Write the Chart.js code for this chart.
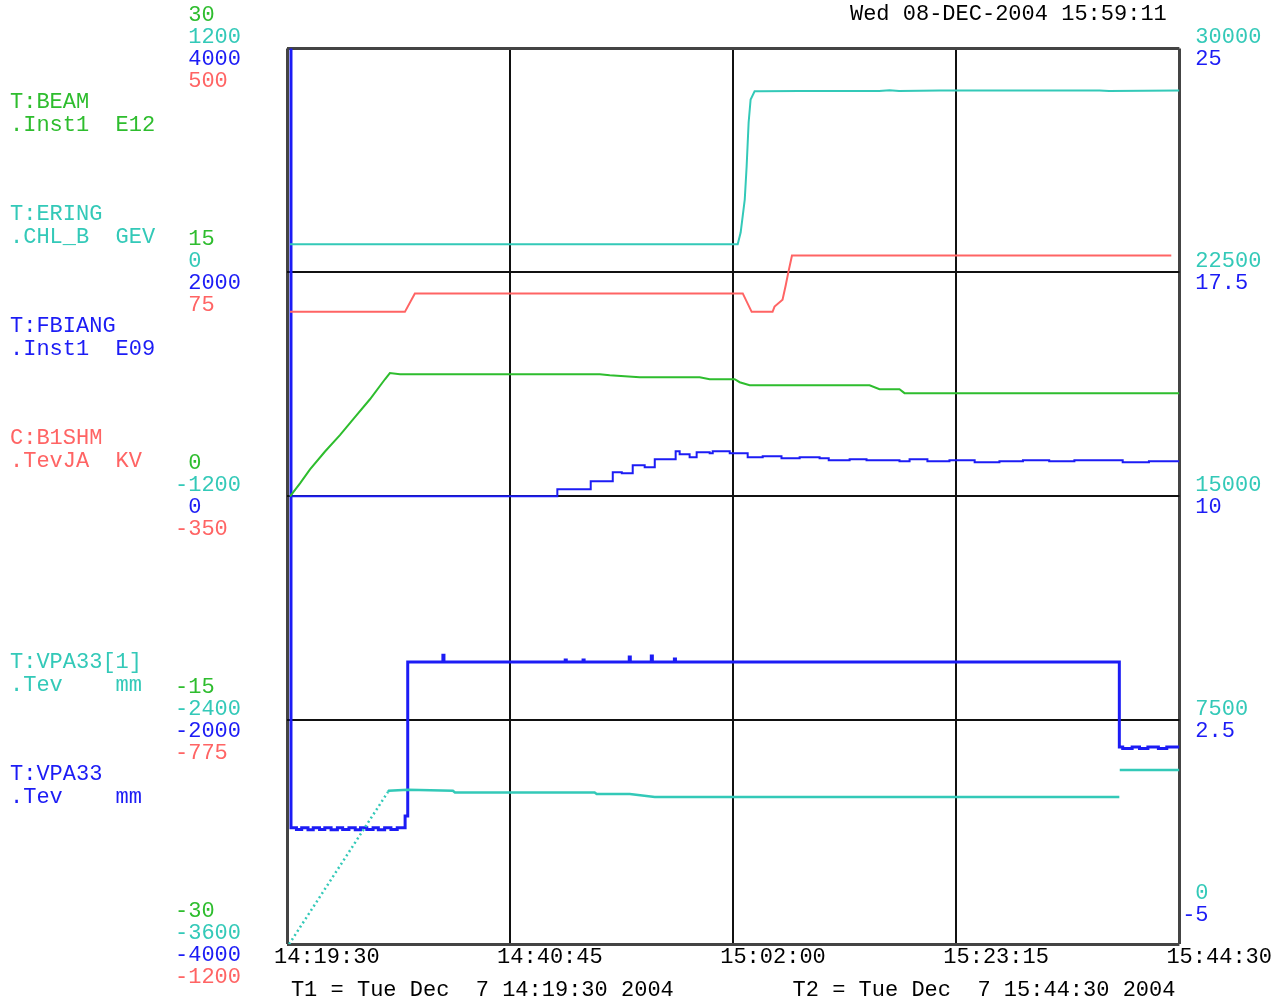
<!DOCTYPE html>
<html>
<head>
<meta charset="utf-8">
<style>
  html, body { margin: 0; padding: 0; background: #fff; }
</style>
<script src="https://cdn.jsdelivr.net/npm/chart.js@4.4.1/dist/chart.umd.min.js"></script>
</head>
<body>
<canvas id="plot" width="1285" height="1003"></canvas>
<script>
// ==== TIME AXIS (minutes since 14:19:30) ====
const xTickMinutes = [0, 21.25, 42.5, 63.75, 85];
const xTickLabels = ['14:19:30', '14:40:45', '15:02:00', '15:23:15', '15:44:30'];
const stampText = 'Wed 08-DEC-2004 15:59:11';
const t1Text = 'T1 = Tue Dec  7 14:19:30 2004';
const t2Text = 'T2 = Tue Dec  7 15:44:30 2004';

// ==== AXIS TICKS ====
const beamTicks = [-30, -15, 0, 15, 30];
const eringTicks = [-3600, -2400, -1200, 0, 1200];
const fbiangTicks = [-4000, -2000, 0, 2000, 4000];
const b1shmTicks = [-1200, -775, -350, 75, 500];
const vpa1Ticks = [0, 7500, 15000, 22500, 30000];
const vpaTicks = [-5, 2.5, 10, 17.5, 25];

// ==== SERIES ====
const seriesNames = ['T:BEAM', 'T:ERING', 'T:FBIANG', 'C:B1SHM', 'T:VPA33[1]', 'T:VPA33'];
const seriesUnits = ['.Inst1  E12', '.CHL_B  GEV', '.Inst1  E09', '.TevJA  KV', '.Tev    mm', '.Tev    mm'];

const beamT = [0.29, 1.24, 2.19, 3.62, 5.04, 6.47, 7.90, 9.33, 9.80, 10.76, 29.79, 30.74, 33.6, 39.31, 40.26, 42.64, 43.12, 44.07, 55.49, 56.44, 58.34, 58.82, 85];
const beamV = [0, 0.87, 1.8, 3.0, 4.1, 5.3, 6.5, 7.84, 8.25, 8.18, 8.18, 8.11, 7.98, 7.98, 7.84, 7.84, 7.64, 7.44, 7.44, 7.17, 7.17, 6.91, 6.91];

const eringT = [0.29, 42.93, 43.21, 43.4, 43.6, 43.78, 43.97, 44.16, 44.54, 45.0, 48.8, 56.4, 57.4, 58.3, 62.2, 77.4, 78.3, 85];
const eringV = [150, 150, 213, 299, 390, 567, 803, 926, 970, 970, 972, 972, 976, 972, 975, 975, 972, 975];

const fbiangT = [0.29, 25.75, 28.93, 31.03, 31.89, 32.93, 34.07, 35.03, 37.02, 37.4, 38.35, 39.02, 40.26, 40.55, 42.17, 43.88, 45.31, 47.1, 48.83, 50.73, 51.6, 53.59, 55.2, 56.44, 58.34, 59.3, 61.0, 63.1, 65.5, 67.86, 70.1, 72.6, 75.0, 77.4, 79.6, 82.1, 85];
const fbiangV = [0, 63, 134, 214, 206, 277, 259, 331, 402, 375, 349, 393, 384, 402, 384, 349, 357, 340, 349, 340, 322, 331, 322, 322, 313, 331, 313, 322, 304, 313, 322, 313, 322, 322, 304, 313, 313];

const b1shmT = [0.29, 11.23, 12.18, 43.41, 44.26, 46.25, 46.44, 47.2, 47.5, 47.75, 48.1, 84.23];
const b1shmV = [0, 0, 35, 35, 0, 0, 10, 23, 50, 75, 107, 107];

const vpa1T = [0.2, 9.61, 9.7, 11.5, 15.8, 16.0, 29.3, 29.5, 32.65, 35.03, 79.28, 79.3, 79.32, 85];
const vpa1V = [0, 5095, 5140, 5170, 5140, 5080, 5080, 5028, 5028, 4927, 4927, null, 5832, 5832];

const vpaT = [0.35, 0.38, 0.9, 1.4, 2.0, 2.5, 3.1, 3.6, 4.2, 4.8, 5.3, 5.9, 6.5, 7.0, 7.6, 8.2, 8.7, 9.3, 9.9, 10.5, 11.25, 11.5, 14.85, 14.95, 26.5, 26.6, 28.2, 28.3, 32.6, 32.7, 34.7, 34.8, 36.9, 37.0, 79.28, 79.6, 80.5, 81.2, 82.0, 83.0, 83.8, 85];
const vpaV = [30, -1.1, -1.16, -1.1, -1.17, -1.1, -1.16, -1.1, -1.17, -1.1, -1.16, -1.1, -1.17, -1.1, -1.16, -1.1, -1.17, -1.1, -1.16, -1.1, -0.71, 4.45, 4.68, 4.45, 4.52, 4.45, 4.52, 4.45, 4.62, 4.45, 4.65, 4.45, 4.55, 4.45, 1.6, 1.55, 1.6, 1.55, 1.6, 1.55, 1.6, 1.6];

// ==== STYLE ====
const GREEN = '#2ebd2e';
const CYAN = '#33c9b8';
const BLUE = '#1c1cf5';
const RED = '#ff6464';
const FONT = { family: '"Liberation Mono", "DejaVu Sans Mono", monospace', size: 22, weight: 'normal' };

const toPoints = (t, v) => t.map((x, i) => ({ x: x, y: v[i] }));
// sign sits in its own column, digits line up behind it
const signFmt = v => (v < 0 ? '-' : ' ') + String(Math.abs(v));
// right side: bottom pair is lifted clear of the time labels
const rightFmt = (v, i) => {
  const s = signFmt(v).padEnd(6);
  return i === 0 ? [s, '', '', ''] : s;
};

const edge = ctx => ctx.index === 0 || ctx.index === 4;
const gridOpts = {
  display: true,
  drawTicks: false,
  color: ctx => edge(ctx) ? '#444' : '#111',
  lineWidth: ctx => edge(ctx) ? 3 : 2
};

function yAxis(ticks, color, position, offset, showGrid) {
  const left = position === 'left';
  return {
    type: 'linear',
    position: position,
    min: ticks[0],
    max: ticks[ticks.length - 1],
    afterBuildTicks: s => { s.ticks = ticks.map(v => ({ value: v })); },
    afterFit: s => { s.width = 0; s.paddingTop = 0; s.paddingBottom = 0; },
    border: { display: false },
    grid: showGrid ? gridOpts : { display: false, drawTicks: false },
    ticks: {
      color: color,
      font: FONT,
      autoSkip: false,
      mirror: true,
      crossAlign: 'near',
      padding: left ? -112 : 82,
      labelOffset: offset,
      callback: left ? signFmt : rightFmt
    }
  };
}

// ==== SERIES NAMES AT LEFT ====
const seriesLabels = {
  id: 'seriesLabels',
  afterDraw(chart) {
    const { ctx, chartArea } = chart;
    const slots = [0, 1, 2, 3, 5, 6];
    const rowH = (chartArea.bottom - chartArea.top) / 8;
    ctx.save();
    ctx.font = FONT.size + 'px ' + FONT.family;
    ctx.textBaseline = 'middle';
    ctx.textAlign = 'left';
    chart.data.datasets.forEach((ds, i) => {
      const y = chartArea.top + (slots[i] + 0.5) * rowH - 2;
      ctx.fillStyle = ds.borderColor;
      ctx.fillText(seriesNames[i], 10, y);
      ctx.fillText(seriesUnits[i], 10, y + 23);
    });
    ctx.restore();
  }
};

new Chart(document.getElementById('plot'), {
  type: 'line',
  data: {
    datasets: [
      { label: seriesNames[0], data: toPoints(beamT, beamV), yAxisID: 'yBeam', borderColor: GREEN, borderWidth: 2 },
      { label: seriesNames[1], data: toPoints(eringT, eringV), yAxisID: 'yEring', borderColor: CYAN, borderWidth: 2 },
      { label: seriesNames[2], data: toPoints(fbiangT, fbiangV), yAxisID: 'yFbiang', borderColor: BLUE, borderWidth: 2, stepped: true },
      { label: seriesNames[3], data: toPoints(b1shmT, b1shmV), yAxisID: 'yB1shm', borderColor: RED, borderWidth: 2 },
      {
        label: seriesNames[4], data: toPoints(vpa1T, vpa1V), yAxisID: 'yVpa1', borderColor: CYAN, borderWidth: 2.5,
        segment: { borderDash: ctx => ctx.p0.parsed.x < 1 ? [2, 3] : undefined }
      },
      { label: seriesNames[5], data: toPoints(vpaT, vpaV), yAxisID: 'yVpa', borderColor: BLUE, borderWidth: 3, stepped: true }
    ]
  },
  options: {
    responsive: false,
    animation: false,
    elements: { point: { radius: 0 }, line: { tension: 0 } },
    layout: { padding: { left: 287, right: 105, top: 1, bottom: 0 } },
    plugins: {
      legend: { display: false },
      tooltip: { enabled: false },
      title: {
        display: true,
        text: stampText + ' ',
        align: 'end',
        color: '#000',
        font: FONT,
        padding: { top: 0, bottom: 21 }
      }
    },
    scales: {
      x: {
        type: 'linear',
        min: 0,
        max: 85,
        afterBuildTicks: s => { s.ticks = xTickMinutes.map(v => ({ value: v })); },
        border: { display: false },
        grid: gridOpts,
        ticks: {
          color: '#000',
          font: FONT,
          autoSkip: false,
          maxRotation: 0,
          align: 'start',
          labelOffset: -13,
          padding: 0,
          callback: (v, i) => xTickLabels[i]
        },
        title: {
          display: true,
          text: t1Text + ' '.repeat(9) + t2Text,
          color: '#000',
          font: FONT,
          padding: { top: 6, bottom: 0 }
        }
      },
      yBeam: yAxis(beamTicks, GREEN, 'left', -33, true),
      yEring: yAxis(eringTicks, CYAN, 'left', -11, false),
      yFbiang: yAxis(fbiangTicks, BLUE, 'left', 11, false),
      yB1shm: yAxis(b1shmTicks, RED, 'left', 33, false),
      yVpa1: yAxis(vpa1Ticks, CYAN, 'right', -11, false),
      yVpa: yAxis(vpaTicks, BLUE, 'right', 11, false)
    }
  },
  plugins: [seriesLabels]
});
</script>
</body>
</html>
